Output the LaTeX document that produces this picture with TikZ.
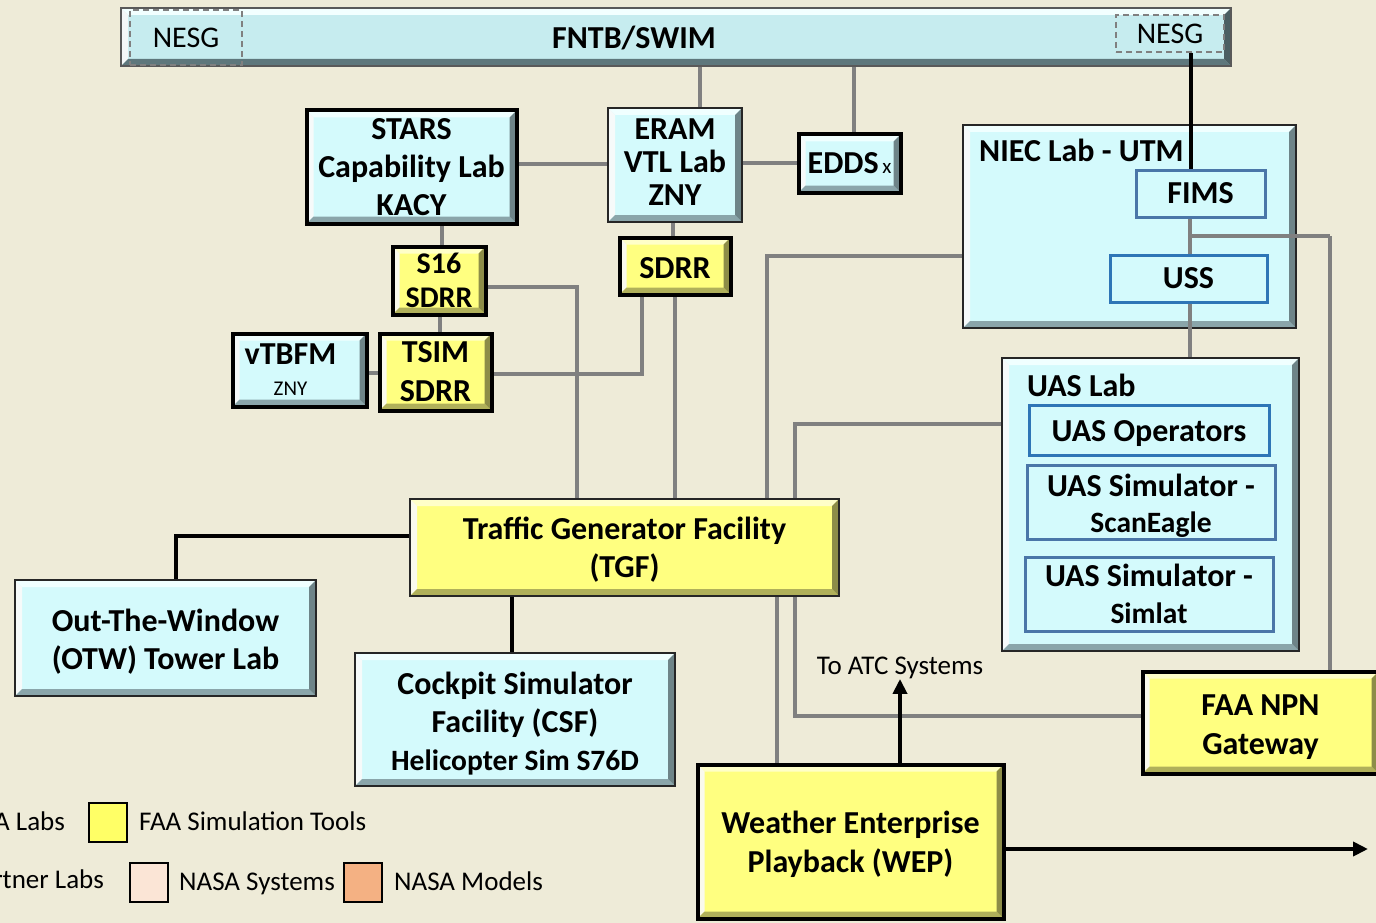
\documentclass[tikz,border=0pt]{standalone}
\usepackage{fontspec}
\setmainfont{Carlito}
\usetikzlibrary{arrows.meta,calc}
\definecolor{bgc}{HTML}{EEEBD8}
\definecolor{cyf}{HTML}{D4FAFC}
\definecolor{cyl}{HTML}{F0FFFF}
\definecolor{cyd}{HTML}{8AA5AA}
\definecolor{yef}{HTML}{FFFF80}
\definecolor{yel}{HTML}{FFFFC8}
\definecolor{yed}{HTML}{B0B05A}
\definecolor{barf}{HTML}{C6ECEF}
\definecolor{barl}{HTML}{F2FFFF}
\definecolor{bard}{HTML}{5E777C}
\definecolor{gl}{HTML}{808080}
\definecolor{blu}{HTML}{2E75B6}
\definecolor{blu2}{HTML}{4A76A8}
\definecolor{pinkc}{HTML}{FBE5D6}
\definecolor{orc}{HTML}{F4B183}
\definecolor{legy}{HTML}{FFFF66}
\pgfdeclarelayer{bg}\pgfdeclarelayer{lines}
\pgfsetlayers{bg,lines,main}
\newcommand{\up}[1]{\rule{0pt}{#1}}
\newcommand{\dn}[1]{\rule[-#1]{0pt}{#1}}
\tikzset{
 bevel/.style 2 args={path picture={
   \path (path picture bounding box.north west) coordinate (pNW)
         (path picture bounding box.north east) coordinate (pNE)
         (path picture bounding box.south west) coordinate (pSW)
         (path picture bounding box.south east) coordinate (pSE);
   \fill[#1] (pNW) -- (pNE) -- ([shift={(-7pt,-7pt)}]pNE) -- ([shift={(7pt,-7pt)}]pNW) -- cycle;
   \fill[#1!70!#2!20!white] (pNW) -- (pSW) -- ([shift={(7pt,7pt)}]pSW) -- ([shift={(7pt,-7pt)}]pNW) -- cycle;
   \fill[#2] (pSW) -- (pSE) -- ([shift={(-7pt,7pt)}]pSE) -- ([shift={(7pt,7pt)}]pSW) -- cycle;
   \fill[#2!80!black] (pSE) -- (pNE) -- ([shift={(-7pt,-7pt)}]pNE) -- ([shift={(-7pt,7pt)}]pSE) -- cycle;
 }},
 bx/.style={rectangle, inner sep=0pt, align=center, font=\bfseries\fontsize{32}{37}\selectfont},
 cy/.style={bx, fill=cyf, bevel={cyl}{cyd}},
 ye/.style={bx, fill=yef, bevel={yel}{yed}},
 thk/.style={draw=black, line width=4pt},
 thn/.style={draw=black!85, line width=2.2pt},
 inb/.style={bx, fill=cyf, draw=#1, line width=3pt},
 nesg/.style={rectangle, inner sep=0pt, draw=gl, line width=1.5pt, dash pattern=on 6pt off 4pt, font=\fontsize{30}{36}\selectfont},
 gline/.style={draw=gl, line width=4.5pt},
 bline/.style={draw=black, line width=4pt},
 lgt/.style={font=\fontsize{27}{30}\selectfont, inner sep=0pt},
 lsq/.style={rectangle, inner sep=0pt, draw=black, line width=2pt, minimum width=38pt, minimum height=39pt},
 tip/.style={-{Triangle[length=15pt,width=14pt]}}
}
\begin{document}
\begin{tikzpicture}[x=1pt,y=-1pt]
\useasboundingbox (0,0) rectangle (1376,923);
\begin{pgfonlayer}{bg}
\fill[bgc] (0,0) rectangle (1376,923);
\end{pgfonlayer}

% top bar
\node[rectangle, inner sep=0pt, fill=barf, bevel={barl}{bard}, draw=gray!70!black, line width=1.5pt,
      minimum width=1110pt, minimum height=58pt] (bar) at (676,37) {};
\node[font=\bfseries\fontsize{32}{37}\selectfont, inner sep=0pt] (barT) at (634,38) {FNTB/SWIM};
\node[nesg, minimum width=112pt, minimum height=55pt] (nesgL) at (186,37.5) {NESG};
\node[nesg, minimum width=108pt, minimum height=37pt] (nesgR) at (1170,33.5) {NESG};

% upper boxes
\node[cy, thk, minimum width=210pt, minimum height=113pt, font=\bfseries\fontsize{32}{38}\selectfont] (stars) at (411.5,167) {STARS\\Capability Lab\\KACY};
\node[cy, thn, minimum width=134pt, minimum height=114pt, font=\bfseries\fontsize{32}{33}\selectfont] (eram) at (675,165) {ERAM\\VTL Lab\\ZNY\dn{6pt}};
\node[cy, thk, minimum width=102pt, minimum height=58pt] (edds) at (849.5,163.5) {EDDS{\mdseries\fontsize{21}{24}\selectfont\,x}};
\node[ye, thk, minimum width=93pt, minimum height=68pt, font=\bfseries\fontsize{30}{34}\selectfont] (s16) at (439,280.5) {S16\\SDRR};
\node[ye, thk, minimum width=111pt, minimum height=57pt] (sdrr) at (675,266) {\up{26pt}SDRR};
\node[cy, thk, minimum width=134pt, minimum height=73pt, font=\bfseries\fontsize{32}{31}\selectfont] (vtbfm) at (299.5,370) {vTBFM\hspace*{18pt}\\{\mdseries\fontsize{21}{24}\selectfont ZNY}\hspace*{18pt}};
\node[ye, thk, minimum width=112pt, minimum height=77pt, font=\bfseries\fontsize{32}{39}\selectfont] (tsim) at (435.5,372) {TSIM\\SDRR};

% NIEC lab
\node[cy, thn, minimum width=333pt, minimum height=203pt] (niec) at (1129.5,226.5) {};
\node[bx, anchor=west] (niecT) at (979,150) {NIEC Lab - UTM};
\node[inb=blu2, minimum width=129pt, minimum height=47pt] (fims) at (1200.5,193.5) {FIMS};
\node[inb=blu, minimum width=157pt, minimum height=47pt] (uss) at (1188.5,278.5) {USS};

% UAS lab
\node[cy, thn, minimum width=297pt, minimum height=293pt] (uas) at (1150.5,504.5) {};
\node[bx, anchor=west] (uasT) at (1027,385) {UAS Lab};
\node[inb=blu, minimum width=240pt, minimum height=50pt] (uasop) at (1149,430) {\up{28.5pt}UAS Operators};
\node[inb=blu2, minimum width=248pt, minimum height=74pt, font=\bfseries\fontsize{32}{36}\selectfont] (sim1) at (1151,502) {\up{30pt}UAS Simulator -\\{\fontsize{29.5}{36}\selectfont ScanEagle}};
\node[inb=blu2, minimum width=248pt, minimum height=74pt, font=\bfseries\fontsize{32}{37}\selectfont] (sim2) at (1149,594) {UAS Simulator -\\{\fontsize{29.5}{37}\selectfont Simlat}};

% lower boxes
\node[ye, thn, minimum width=429pt, minimum height=97pt, font=\bfseries\fontsize{32}{38}\selectfont] (tgf) at (624.5,547.5) {\up{27.5pt}Traffic Generator Facility\\(TGF)};
\node[cy, thn, minimum width=301pt, minimum height=116pt, font=\bfseries\fontsize{32}{38}\selectfont] (otw) at (165.5,638) {\up{30.5pt}Out-The-Window\\(OTW) Tower Lab};
\node[cy, thn, minimum width=320pt, minimum height=133pt, font=\bfseries\fontsize{32}{38}\selectfont] (csf) at (515,719.5) {\up{30.5pt}Cockpit Simulator\\Facility (CSF)\\{\fontsize{29.5}{38}\selectfont Helicopter Sim S76D}};
\node[ye, thk, minimum width=306pt, minimum height=154pt, font=\bfseries\fontsize{32}{39}\selectfont] (wep) at (850.5,841.5) {\up{28.5pt}Weather Enterprise\\Playback (WEP)};
\node[ye, thk, minimum width=236pt, minimum height=102pt, font=\bfseries\fontsize{32}{39}\selectfont] (npn) at (1260.5,722.5) {\up{30.5pt}FAA NPN\\Gateway};
\node[lgt, anchor=mid] (atc) at (900,672) {To ATC Systems};

% legend
\node[lgt, anchor=mid east] (legA) at (65,828) {A Labs};
\node[lsq, fill=legy] (sqY) at (107.5,822) {};
\node[lgt, anchor=mid west] (legYt) at (139,828) {FAA Simulation Tools};
\node[lgt, anchor=mid east] (legP) at (104,886) {rtner Labs};
\node[lsq, fill=pinkc] (sqP) at (148.5,882) {};
\node[lgt, anchor=mid west] (legPt) at (179,888) {NASA Systems};
\node[lsq, fill=orc] (sqO) at (363,882) {};
\node[lgt, anchor=mid west] (legOt) at (394,888) {NASA Models};

% helper coordinates
\coordinate (x700) at (700,0);
\coordinate (x854) at (854,0);
\coordinate (y164) at (0,164);
\coordinate (y163) at (0,163);
\coordinate (x442) at (442,0);
\coordinate (x673) at (673,0);
\coordinate (x440) at (440,0);
\coordinate (y373) at (0,373);
\coordinate (y287) at (0,287);
\coordinate (x577) at (577,0);
\coordinate (y374) at (0,374);
\coordinate (x642) at (642,0);
\coordinate (x675) at (675,0);
\coordinate (y256) at (0,256);
\coordinate (b1) at (767,256);
\coordinate (b2) at (767,560);
\coordinate (b3) at (777,560);
\coordinate (x777) at (777,0);
\coordinate (y424) at (0,424);
\coordinate (b4) at (795,424);
\coordinate (b5) at (795,716);
\coordinate (y716) at (0,716);
\coordinate (x1190) at (1190,0);
\coordinate (x1191) at (1191,0);
\coordinate (br1) at (1190,236);
\coordinate (br2) at (1330,236);
\coordinate (x1330) at (1330,0);
\coordinate (y536) at (0,536);
\coordinate (x176) at (176,0);
\coordinate (x512) at (512,0);
\coordinate (x900) at (900,0);
\coordinate (y849) at (0,849);
\coordinate (aend) at (1368,849);

\begin{pgfonlayer}{lines}
\draw[gline] (bar.south -| x700) -- (eram.north -| x700);
\draw[gline] (bar.south -| x854) -- (edds.north -| x854);
\draw[gline] (stars.east |- y164) -- (eram.west |- y164);
\draw[gline] (eram.east |- y163) -- (edds.west |- y163);
\draw[gline] (stars.south -| x442) -- (s16.north -| x442);
\draw[gline] (eram.south -| x673) -- (sdrr.north -| x673);
\draw[gline] (s16.south -| x440) -- (tsim.north -| x440);
\draw[gline] (vtbfm.east |- y373) -- (tsim.west |- y373);
\draw[gline] (s16.east |- y287) -| (tgf.north -| x577);
\draw[gline] (tsim.east |- y374) -| (sdrr.south -| x642);
\draw[gline] (sdrr.south -| x675) -- (tgf.north -| x675);
\draw[gline] (niec.west |- y256) -- (b1) -- (b2) -- (b3) -- (wep.north -| x777);
\draw[gline] (uas.west |- y424) -- (b4) -- (b5) -- (npn.west |- y716);
\draw[gline] (br2) -- (npn.north -| x1330);
\end{pgfonlayer}

\draw[gline] (fims.south -| x1190) -- (uss.north -| x1190);
\draw[gline] (br1) -- (br2);
\draw[gline] (uss.south -| x1190) -- (uas.north -| x1190);

\draw[bline] (nesgR.south -| x1191) -- (fims.north -| x1191);
\draw[bline] (tgf.west |- y536) -| (otw.north -| x176);
\draw[bline] (tgf.south -| x512) -- (csf.north -| x512);
\draw[bline, tip] (wep.north -| x900) -- (atc.south -| x900);
\draw[bline, tip] (wep.east |- y849) -- (aend);
\end{tikzpicture}
\end{document}
